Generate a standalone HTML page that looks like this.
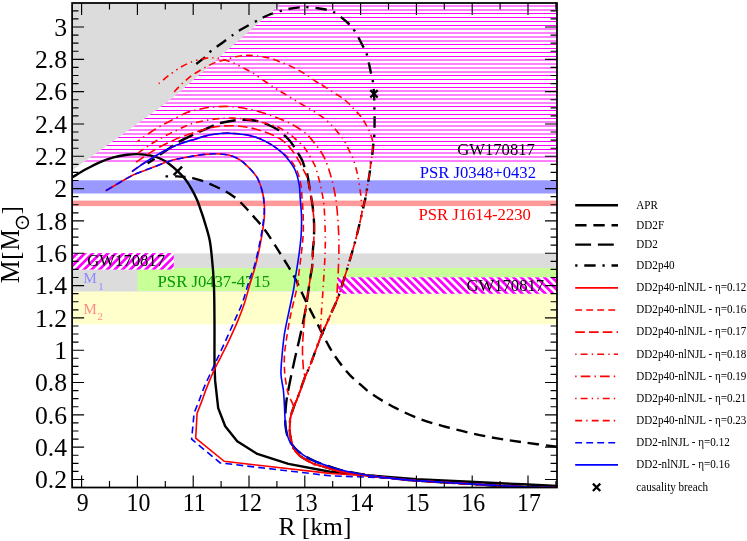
<!DOCTYPE html>
<html><head><meta charset="utf-8"><title>M-R</title>
<style>html,body{margin:0;padding:0;background:#fff;}body{width:747px;height:541px;overflow:hidden;font-family:"Liberation Serif",serif;}svg{display:block;position:absolute;left:0;top:0;will-change:transform;}text{font-family:"Liberation Serif",serif;}</style></head><body>
<svg width="747" height="541" viewBox="0 0 747 541">
<defs>
<pattern id="hh" patternUnits="userSpaceOnUse" x="0" y="-72.3960" width="10" height="3.8816"><rect x="0" y="0" width="10" height="1" fill="#ff00ff"/></pattern>
<pattern id="h1" patternUnits="userSpaceOnUse" x="232.3238" y="0" width="5.4447" height="10" patternTransform="rotate(45)"><rect x="0" y="0" width="2.75" height="10" fill="#ff00ff"/></pattern>
<pattern id="h2" patternUnits="userSpaceOnUse" x="45.9304" y="0" width="5.4447" height="10" patternTransform="rotate(-45)"><rect x="0" y="0" width="2.75" height="10" fill="#ff00ff"/></pattern>
<clipPath id="cp"><rect x="72.1" y="3" width="484.9" height="484.5"/></clipPath>
</defs>
<rect width="747" height="541" fill="#fff"/>
<g clip-path="url(#cp)">
<rect x="72.1" y="291.3" width="484.9" height="33.1" fill="#ffffcc"/>
<rect x="72.1" y="253.4" width="484.9" height="38.1" fill="#dcdcdc"/>
<rect x="137.4" y="268" width="419.6" height="23" fill="#c8ff96"/>
<rect x="72.1" y="180.3" width="484.9" height="13.2" fill="#9999ff"/>
<rect x="72.1" y="200.6" width="484.9" height="5.5" fill="#ff9999"/>
<rect x="72.1" y="253.1" width="101.7" height="16.5" fill="#fff"/>
<rect x="337.6" y="277.3" width="219.4" height="16.5" fill="#fff"/>
<rect x="72.1" y="253.1" width="101.7" height="16.5" fill="url(#h1)"/>
<rect x="337.6" y="277.3" width="219.4" height="16.5" fill="url(#h2)"/>
<path d="M72.1 161.0 H557 M72.1 157.0 H557 M72.1 153.0 H557 M72.1 149.5 H557 M72.1 145.5 H557 M72.1 141.5 H557 M72.1 137.5 H557 M72.1 134.0 H557 M72.1 130.0 H557 M72.1 126.0 H557 M72.1 122.0 H557 M72.1 118.5 H557 M72.1 114.5 H557 M72.1 110.5 H557 M72.1 106.5 H557 M72.1 103.0 H557 M72.1 99.0 H557 M72.1 95.0 H557 M72.1 91.0 H557 M72.1 87.5 H557 M72.1 83.5 H557 M72.1 79.5 H557 M72.1 75.5 H557 M72.1 72.0 H557 M72.1 68.0 H557 M72.1 64.0 H557 M72.1 60.0 H557 M72.1 56.5 H557 M72.1 52.5 H557 M72.1 48.5 H557 M72.1 44.5 H557 M72.1 41.0 H557 M72.1 37.0 H557 M72.1 33.0 H557 M72.1 29.0 H557 M72.1 25.5 H557 M72.1 21.5 H557 M72.1 17.5 H557 M72.1 13.5 H557 M72.1 10.0 H557 M72.1 6.0 H557 M72.1 2.0 H557" stroke="#ff00ff" stroke-width="1" fill="none"/>
<path d="M72.1 3 L281.3 3 L184 88.3 L172 98.3 L160 107.4 L72.1 170.4 L72.1 170.4 Z" fill="#dcdcdc"/>
<text transform="translate(457.2 154.6) scale(0.98 1)" font-size="17" fill="#000" text-anchor="start">GW170817</text>
<text transform="translate(419.7 177.7) scale(0.98 1)" font-size="17" fill="#0000ff" text-anchor="start">PSR J0348+0432</text>
<text transform="translate(418.4 219.5) scale(0.98 1)" font-size="17" fill="#ff0000" text-anchor="start">PSR J1614-2230</text>
<text transform="translate(87.3 265.6) scale(0.98 1)" font-size="17" fill="#000" text-anchor="start">GW170817</text>
<text transform="translate(466.4 291) scale(0.98 1)" font-size="17" fill="#000" text-anchor="start">GW170817</text>
<text transform="translate(157.6 286.7) scale(0.98 1)" font-size="17" fill="#009900" text-anchor="start">PSR J0437-4715</text>
<text transform="translate(83.2 283.2) scale(0.98 1)" font-size="15.6" fill="#8c8cff" text-anchor="start">M<tspan font-size="11.2" dx="1.6" dy="6.6">1</tspan></text>
<text transform="translate(83.2 313.5) scale(0.98 1)" font-size="15.6" fill="#ff8c8c" text-anchor="start">M<tspan font-size="11.2" dx="0.6" dy="6.3">2</tspan></text>
<path d="M72.7 177.1 C75.05 175.72 82.22 171.3 86.8 168.8 C91.38 166.3 95.75 164 100.2 162.1 C104.65 160.2 109.05 158.62 113.5 157.4 C117.95 156.18 122.88 155.35 126.9 154.8 C130.92 154.25 133.58 153.97 137.6 154.1 C141.62 154.23 147.27 154.87 151 155.6 C154.73 156.33 157.17 157.27 160 158.5 C162.83 159.73 164.98 160.82 168 163 C171.02 165.18 175.25 168.92 178.1 171.6 C180.95 174.28 182.93 176.33 185.1 179.1 C187.27 181.87 189.1 184.72 191.1 188.2 C193.1 191.68 195.53 196.47 197.1 200 C198.67 203.53 199.33 206.05 200.5 209.4 C201.67 212.75 202.57 214.97 204.1 220.1 C205.63 225.23 208.37 233.52 209.7 240.2 C211.03 246.88 211.43 253.52 212.1 260.2 C212.77 266.88 213.33 273.67 213.7 280.3 C214.07 286.93 214.17 291.68 214.3 300 C214.43 308.32 214.47 320.15 214.5 330.2 C214.53 340.25 214.4 351.93 214.5 360.3 C214.6 368.67 215 377.05 215.1 380.4 L218.2 408.1 L225.2 426.2 L237.2 441.2 L257.3 453.9 L288.4 463.9 L330 471.8 L360 474.6 L388 477 L416.4 479.2 L470 481.7 L522.6 484.3 L557 486" fill="none" stroke="#000" stroke-width="2.4" stroke-linejoin="round"/>
<path d="M165.5 176.4 L168.1 176.4" fill="none" stroke="#000" stroke-width="2.4"/>
<path d="M173.6 175.1 L182.1 166.6" fill="none" stroke="#000" stroke-width="2.4"/>
<path d="M175.1 176.3 C176.85 176.4 182.67 176.6 185.6 176.9 C188.53 177.2 189.77 177.4 192.7 178.1 C195.63 178.8 200.28 180.1 203.2 181.1 C206.12 182.1 207.35 182.83 210.2 184.1 C213.05 185.37 217 187.05 220.3 188.7 C223.6 190.35 226.68 191.78 230 194 C233.32 196.22 236.48 198.48 240.2 202 C243.92 205.52 248.28 210.58 252.3 215.1 C256.32 219.62 260.62 224.25 264.3 229.1 C267.98 233.95 271.05 239.02 274.4 244.2 C277.75 249.38 281.05 254.68 284.4 260.2 C287.75 265.72 290.98 270.6 294.5 277.3 C298.02 284 301.48 292.27 305.5 300.4 C309.52 308.53 314.52 318.13 318.6 326.1 C322.68 334.07 326.42 342 330 348.2 C333.58 354.4 336.75 358.78 340.1 363.3 C343.45 367.82 346.75 371.78 350.1 375.3 C353.45 378.82 356.47 381.2 360.2 384.4 C363.93 387.6 366.63 390.58 372.5 394.5 C378.37 398.42 387.33 403.77 395.4 407.9 C403.47 412.03 412.42 416.12 420.9 419.3 C429.38 422.48 437.83 424.67 446.3 427 C454.77 429.33 463.22 431.4 471.7 433.3 C480.18 435.2 488.72 436.92 497.2 438.4 C505.68 439.88 512.65 440.8 522.6 442.2 C532.55 443.6 551.18 446.03 556.9 446.8" fill="none" stroke="#000" stroke-width="2.4" stroke-dasharray="11.350 6.810" stroke-dashoffset="0.85"/>
<path d="M147.6 163.2 C148.77 162.45 152.52 160.13 154.6 158.7 C156.68 157.27 157.08 156.73 160.1 154.6 C163.12 152.47 169.52 148.07 172.7 145.9 C175.88 143.73 175.85 143.43 179.2 141.6 C182.55 139.77 189.45 136.53 192.8 134.9 C196.15 133.27 197.27 132.73 199.3 131.8 C201.33 130.87 202.75 130.3 205 129.3 C207.25 128.3 210.23 126.85 212.8 125.8 C215.37 124.75 216.58 123.93 220.4 123 C224.22 122.07 231.45 120.73 235.7 120.2 C239.95 119.67 242.3 119.65 245.9 119.8 C249.5 119.95 253.7 120.32 257.3 121.1 C260.9 121.88 263.9 122.97 267.5 124.5 C271.1 126.03 276.08 128.5 278.9 130.3 C281.72 132.1 282.55 133.52 284.4 135.3 C286.25 137.08 288.38 139.07 290 141 C291.62 142.93 292.73 144.83 294.1 146.9 C295.47 148.97 296.88 151.22 298.2 153.4 C299.52 155.58 300.98 157.85 302 160 C303.02 162.15 303.42 163.92 304.3 166.3 C305.18 168.68 306.45 170.88 307.3 174.3 C308.15 177.72 308.73 182.85 309.4 186.8 C310.07 190.75 310.75 194.65 311.3 198 C311.85 201.35 312.23 202.55 312.7 206.9 C313.17 211.25 313.92 218.55 314.1 224.1 C314.28 229.65 314 235.85 313.8 240.2 C313.6 244.55 313.17 245.85 312.9 250.2 C312.63 254.55 312.6 261.95 312.2 266.3 C311.8 270.65 311.12 272.35 310.5 276.3 C309.88 280.25 309.33 284.37 308.5 290 C307.67 295.63 306.83 302.73 305.5 310.1 C304.17 317.47 302.33 325.83 300.5 334.2 C298.67 342.57 296.35 351.93 294.5 360.3 C292.65 368.67 290.75 377.6 289.4 384.4 C288.05 391.2 287.1 395.32 286.4 401.1 C285.7 406.88 285.25 414.25 285.2 419.1 C285.15 423.95 285.43 426.67 286.1 430.2 C286.77 433.73 287.67 437.25 289.2 440.3 C290.73 443.35 292.93 446.03 295.3 448.5 C297.67 450.97 300.35 453.07 303.4 455.1 C306.45 457.13 309.87 459 313.6 460.7 C317.33 462.4 321.4 463.78 325.8 465.3 C330.2 466.82 334.3 468.35 340 469.8 C345.7 471.25 352 472.65 360 474 C368 475.35 378.6 476.8 388 477.9 C397.4 479 402.73 479.6 416.4 480.6 C430.07 481.6 452.3 482.85 470 483.9 C487.7 484.95 508.1 486.3 522.6 486.9 C537.1 487.5 551.27 487.4 557 487.5" fill="none" stroke="#000" stroke-width="2.4" stroke-dasharray="15.890 6.810" stroke-dashoffset="7.6"/>
<path d="M196.3 64 C197.93 62.7 203.72 58.32 206.1 56.2 C208.48 54.08 208.87 52.85 210.6 51.3 C212.33 49.75 213.3 49.22 216.5 46.9 C219.7 44.58 226.67 39.72 229.8 37.4 C232.93 35.08 233.43 34.32 235.3 33 C237.17 31.68 237.55 31.47 241 29.5 C244.45 27.53 252.33 23.2 256 21.2 C259.67 19.2 260.7 18.62 263 17.5 C265.3 16.38 267 15.55 269.8 14.5 C272.6 13.45 276.48 12.17 279.8 11.2 C283.12 10.23 286.33 9.35 289.7 8.7 C293.07 8.05 297.47 7.58 300 7.3 C302.53 7.02 301.9 6.83 304.9 7 C307.9 7.17 313.22 7.47 318 8.3 C322.78 9.13 328.72 9.63 333.6 12 C338.48 14.37 343.77 19.3 347.3 22.5 C350.83 25.7 352.3 27.45 354.8 31.2 C357.3 34.95 360.3 41.13 362.3 45 C364.3 48.87 365.47 50.23 366.8 54.4 C368.13 58.57 369.3 65.57 370.3 70 C371.3 74.43 372.18 77.07 372.8 81 C373.42 84.93 373.73 89.1 374 93.6 C374.27 98.1 374.3 103.6 374.4 108 C374.5 112.4 374.62 115.5 374.6 120 C374.58 124.5 374.5 131.08 374.3 135 C374.1 138.92 373.72 140.42 373.4 143.5 C373.08 146.58 372.8 150.48 372.4 153.5 C372 156.52 371.47 158.28 371 161.6 C370.53 164.92 370.28 168.75 369.6 173.4 C368.92 178.05 367.58 185.4 366.9 189.5 C366.22 193.6 365.93 195.78 365.5 198 C365.07 200.22 364.95 199.98 364.3 202.8 C363.65 205.62 362.72 210.03 361.6 214.9 C360.48 219.77 358.98 226.45 357.6 232 C356.22 237.55 355.02 242.15 353.3 248.2 C351.58 254.25 349.13 262.27 347.3 268.3 C345.47 274.33 343.87 279.45 342.3 284.4 C340.73 289.35 339.67 293.4 337.9 298 C336.13 302.6 333.6 307.67 331.7 312 C329.8 316.33 328.35 319.8 326.5 324 C324.65 328.2 323.27 330.48 320.6 337.2 C317.93 343.92 313.18 357.43 310.5 364.3 C307.82 371.17 306.67 372.78 304.5 378.4 C302.33 384.02 299.17 393.55 297.5 398 C295.83 402.45 295.65 401.92 294.5 405.1 C293.35 408.28 291.4 412.92 290.6 417.1 C289.8 421.28 289.6 426.33 289.7 430.2 C289.8 434.07 290.45 437.08 291.2 440.3 C291.95 443.52 292.68 446.87 294.2 449.5 C295.72 452.13 297.92 454.15 300.3 456.1 C302.68 458.05 306.12 459.85 308.5 461.2 C310.88 462.55 311.72 463.18 314.6 464.2 C317.48 465.22 321.57 466.1 325.8 467.3 C330.03 468.5 334.3 470.22 340 471.4 C345.7 472.58 352 473.32 360 474.4 C368 475.48 378.6 476.87 388 477.9 C397.4 478.93 402.73 479.6 416.4 480.6 C430.07 481.6 452.3 482.85 470 483.9 C487.7 484.95 508.1 486.3 522.6 486.9 C537.1 487.5 551.27 487.4 557 487.5" fill="none" stroke="#000" stroke-width="2.4" stroke-dasharray="11.350 6.810 2.270 6.810" stroke-dashoffset="0.35"/>
<path d="M105.5 190.9 C107.95 189.45 115.52 184.88 120.2 182.2 C124.88 179.52 129.13 176.92 133.6 174.8 C138.07 172.68 143.43 170.87 147 169.5 C150.57 168.13 152 167.75 155 166.6 C158 165.45 161.65 163.78 165 162.6 C168.35 161.42 171.75 160.35 175.1 159.5 C178.45 158.65 181.75 158.13 185.1 157.5 C188.45 156.87 191.85 156.22 195.2 155.7 C198.55 155.18 201.87 154.72 205.2 154.4 C208.53 154.08 211.85 153.78 215.2 153.8 C218.55 153.82 222.83 154.22 225.3 154.5 C227.77 154.78 228.2 154.97 230 155.5 C231.8 156.03 234.27 156.85 236.1 157.7 C237.93 158.55 239.52 159.58 241 160.6 C242.48 161.62 243.23 162.15 245 163.8 C246.77 165.45 249.57 168.18 251.6 170.5 C253.63 172.82 255.72 175.2 257.2 177.7 C258.68 180.2 259.58 182.92 260.5 185.5 C261.42 188.08 262.15 190.78 262.7 193.2 C263.25 195.62 263.48 196.87 263.8 200 C264.12 203.13 264.68 207.65 264.6 212 C264.52 216.35 264.02 220.73 263.3 226.1 C262.58 231.47 261.63 237.5 260.3 244.2 C258.97 250.9 257.13 259.28 255.3 266.3 C253.47 273.32 251.05 280.32 249.3 286.3 C247.55 292.28 246.65 296.6 244.8 302.2 C242.95 307.8 240.78 313.63 238.2 319.9 C235.62 326.17 232.25 333.52 229.3 339.8 C226.35 346.08 223.08 352.42 220.5 357.6 C217.92 362.78 216.02 366.1 213.8 370.9 C211.58 375.7 209.12 381.57 207.2 386.4 C205.28 391.23 203.12 397.65 202.3 399.9 L197.1 413.1 L195.7 438.2 L224.2 461.3 L330 473.4 L360 475.3 L388 478 L416.4 480.6 L470 483.9 L522.6 486.9 L557 487.5" fill="none" stroke="#ff0000" stroke-width="1.6"/>
<path d="M132 171.6 C133.33 170.63 136.98 167.85 140 165.8 C143.02 163.75 146.75 161.4 150.1 159.3 C153.45 157.2 156.75 155.08 160.1 153.2 C163.45 151.32 166.85 149.58 170.2 148 C173.55 146.42 176.9 144.93 180.2 143.7 C183.5 142.47 187.53 141.35 190 140.6 C192.47 139.85 192.05 140.07 195 139.2 C197.95 138.33 203.47 136.35 207.7 135.4 C211.93 134.45 216.58 133.87 220.4 133.5 C224.22 133.13 226.35 132.98 230.6 133.2 C234.85 133.42 241.23 133.97 245.9 134.8 C250.57 135.63 254.37 136.57 258.6 138.2 C262.83 139.83 267.48 142.27 271.3 144.6 C275.12 146.93 278.43 149.77 281.5 152.2 C284.57 154.63 287.17 156.23 289.7 159.2 C292.23 162.17 294.85 165.8 296.7 170 C298.55 174.2 299.92 179.73 300.8 184.4 C301.68 189.07 301.6 192.73 302 198 C302.4 203.27 303.02 209.67 303.2 216 C303.38 222.33 303.5 229 303.1 236 C302.7 243 301.65 250.67 300.8 258 C299.95 265.33 298.72 274.67 298 280 C297.28 285.33 297.77 284 296.5 290 C295.23 296 292.1 307.63 290.4 316 C288.7 324.37 287.3 333.48 286.3 340.2 C285.3 346.92 284.65 350.62 284.4 356.3 C284.15 361.98 284.3 368.62 284.8 374.3 C285.3 379.98 286.63 386.62 287.4 390.4 C288.17 394.18 288.38 394.22 289.4 397 C290.42 399.78 293.3 403.75 293.5 407.1 C293.7 410.45 291.23 413.25 290.6 417.1 C289.97 420.95 289.6 426.33 289.7 430.2 C289.8 434.07 290.45 437.08 291.2 440.3 C291.95 443.52 292.68 446.87 294.2 449.5 C295.72 452.13 297.92 454.15 300.3 456.1 C302.68 458.05 306.12 459.85 308.5 461.2 C310.88 462.55 311.72 463.18 314.6 464.2 C317.48 465.22 321.57 466.1 325.8 467.3 C330.03 468.5 334.3 470.22 340 471.4 C345.7 472.58 352 473.32 360 474.4 C368 475.48 378.6 476.87 388 477.9 C397.4 478.93 402.73 479.6 416.4 480.6 C430.07 481.6 452.3 482.85 470 483.9 C487.7 484.95 508.1 486.3 522.6 486.9 C537.1 487.5 551.27 487.4 557 487.5" fill="none" stroke="#ff0000" stroke-width="1.6" stroke-dasharray="6.890 4.134"/>
<path d="M136 162.2 C137.27 161.35 140.42 159.2 143.6 157.1 C146.78 155 151.18 151.9 155.1 149.6 C159.02 147.3 163 145.3 167.1 143.3 C171.2 141.3 175.42 139.3 179.7 137.6 C183.98 135.9 188.58 134.5 192.8 133.1 C197.02 131.7 202.52 130 205 129.2 C207.48 128.4 205.13 128.8 207.7 128.3 C210.27 127.8 216.15 126.62 220.4 126.2 C224.65 125.78 228.95 125.67 233.2 125.8 C237.45 125.93 241.67 126.3 245.9 127 C250.13 127.7 254.37 128.77 258.6 130 C262.83 131.23 267.73 132.93 271.3 134.4 C274.87 135.87 277.43 137.17 280 138.8 C282.57 140.43 284.7 142.3 286.7 144.2 C288.7 146.1 290.45 148.2 292 150.2 C293.55 152.2 294.67 154.08 296 156.2 C297.33 158.32 298.75 160.6 300 162.9 C301.25 165.2 302.33 167.65 303.5 170 C304.67 172.35 306.02 174.2 307 177 C307.98 179.8 308.68 183.3 309.4 186.8 C310.12 190.3 310.75 194.65 311.3 198 C311.85 201.35 312.23 202.55 312.7 206.9 C313.17 211.25 313.92 218.55 314.1 224.1 C314.28 229.65 314 235.85 313.8 240.2 C313.6 244.55 313.17 245.85 312.9 250.2 C312.63 254.55 312.6 261.95 312.2 266.3 C311.8 270.65 311.12 272.35 310.5 276.3 C309.88 280.25 309.33 284.37 308.5 290 C307.67 295.63 306.33 303.4 305.5 310.1 C304.67 316.8 304 323.52 303.5 330.2 C303 336.88 302.5 343.52 302.5 350.2 C302.5 356.88 303.17 365.6 303.5 370.3 C303.83 375 305.5 373.78 304.5 378.4 C303.5 383.02 299.17 393.55 297.5 398 C295.83 402.45 295.65 401.92 294.5 405.1 C293.35 408.28 291.4 412.92 290.6 417.1 C289.8 421.28 289.6 426.33 289.7 430.2 C289.8 434.07 290.45 437.08 291.2 440.3 C291.95 443.52 292.68 446.87 294.2 449.5 C295.72 452.13 297.92 454.15 300.3 456.1 C302.68 458.05 306.12 459.85 308.5 461.2 C310.88 462.55 311.72 463.18 314.6 464.2 C317.48 465.22 321.57 466.1 325.8 467.3 C330.03 468.5 334.3 470.22 340 471.4 C345.7 472.58 352 473.32 360 474.4 C368 475.48 378.6 476.87 388 477.9 C397.4 478.93 402.73 479.6 416.4 480.6 C430.07 481.6 452.3 482.85 470 483.9 C487.7 484.95 508.1 486.3 522.6 486.9 C537.1 487.5 551.27 487.4 557 487.5" fill="none" stroke="#ff0000" stroke-width="1.6" stroke-dasharray="9.646 4.134"/>
<path d="M138 153.1 C139.6 151.97 144.33 148.47 147.6 146.3 C150.87 144.13 153.58 142.38 157.6 140.1 C161.62 137.82 166.77 135.03 171.7 132.6 C176.63 130.17 183.32 127.15 187.2 125.5 C191.08 123.85 191.58 123.6 195 122.7 C198.42 121.8 203.47 120.8 207.7 120.1 C211.93 119.4 216.15 118.83 220.4 118.5 C224.65 118.17 228.95 117.98 233.2 118.1 C237.45 118.22 241.67 118.63 245.9 119.2 C250.13 119.77 254.37 120.55 258.6 121.5 C262.83 122.45 267.73 123.8 271.3 124.9 C274.87 126 276.65 126.33 280 128.1 C283.35 129.87 288.62 133.48 291.4 135.5 C294.18 137.52 294.7 138.42 296.7 140.2 C298.7 141.98 301.62 144.2 303.4 146.2 C305.18 148.2 305.97 149.9 307.4 152.2 C308.83 154.5 310.65 157.55 312 160 C313.35 162.45 314.6 164.67 315.5 166.9 C316.4 169.13 316.42 169.63 317.4 173.4 C318.38 177.17 320.28 183.92 321.4 189.5 C322.52 195.08 323.47 199.82 324.1 206.9 C324.73 213.98 325.02 224.82 325.2 232 C325.38 239.18 325.37 243.62 325.2 250 C325.03 256.38 324.57 263.63 324.2 270.3 C323.83 276.97 323.43 283.37 323 290 C322.57 296.63 322 303.4 321.6 310.1 C321.2 316.8 320.77 325.68 320.6 330.2 C320.43 334.72 322.28 331.52 320.6 337.2 C318.92 342.88 313.18 357.43 310.5 364.3 C307.82 371.17 306.67 372.78 304.5 378.4 C302.33 384.02 299.17 393.55 297.5 398 C295.83 402.45 295.65 401.92 294.5 405.1 C293.35 408.28 291.4 412.92 290.6 417.1 C289.8 421.28 289.6 426.33 289.7 430.2 C289.8 434.07 290.45 437.08 291.2 440.3 C291.95 443.52 292.68 446.87 294.2 449.5 C295.72 452.13 297.92 454.15 300.3 456.1 C302.68 458.05 306.12 459.85 308.5 461.2 C310.88 462.55 311.72 463.18 314.6 464.2 C317.48 465.22 321.57 466.1 325.8 467.3 C330.03 468.5 334.3 470.22 340 471.4 C345.7 472.58 352 473.32 360 474.4 C368 475.48 378.6 476.87 388 477.9 C397.4 478.93 402.73 479.6 416.4 480.6 C430.07 481.6 452.3 482.85 470 483.9 C487.7 484.95 508.1 486.3 522.6 486.9 C537.1 487.5 551.27 487.4 557 487.5" fill="none" stroke="#ff0000" stroke-width="1.6" stroke-dasharray="6.890 4.134 1.378 4.134" stroke-dashoffset="0.1"/>
<path d="M137.5 141.6 C140.43 139.55 149.38 132.88 155.1 129.3 C160.82 125.72 166.5 122.88 171.8 120.1 C177.1 117.32 183.03 114.23 186.9 112.6 C190.77 110.97 191.53 111.15 195 110.3 C198.47 109.45 202.62 108.15 207.7 107.5 C212.78 106.85 220.2 106.4 225.5 106.4 C230.8 106.4 235.05 106.9 239.5 107.5 C243.95 108.1 247.95 109.02 252.2 110 C256.45 110.98 260.75 112.08 265 113.4 C269.25 114.72 273.63 116.3 277.7 117.9 C281.77 119.5 285.45 120.97 289.4 123 C293.35 125.03 298.28 128.02 301.4 130.1 C304.52 132.18 305.87 133.27 308.1 135.5 C310.33 137.73 312.68 140.83 314.8 143.5 C316.92 146.17 319.03 148.75 320.8 151.5 C322.57 154.25 323.85 156.35 325.4 160 C326.95 163.65 328.65 168.48 330.1 173.4 C331.55 178.32 332.98 183.92 334.1 189.5 C335.22 195.08 336.05 199.82 336.8 206.9 C337.55 213.98 338.25 224.82 338.6 232 C338.95 239.18 338.95 243.62 338.9 250 C338.85 256.38 338.58 263.63 338.3 270.3 C338.02 276.97 337.47 285.38 337.2 290 C336.93 294.62 337.07 295.5 336.7 298 C336.33 300.5 335.83 302.67 335 305 C334.17 307.33 333.12 308.83 331.7 312 C330.28 315.17 328.35 319.8 326.5 324 C324.65 328.2 323.27 330.48 320.6 337.2 C317.93 343.92 313.18 357.43 310.5 364.3 C307.82 371.17 306.67 372.78 304.5 378.4 C302.33 384.02 299.17 393.55 297.5 398 C295.83 402.45 295.65 401.92 294.5 405.1 C293.35 408.28 291.4 412.92 290.6 417.1 C289.8 421.28 289.6 426.33 289.7 430.2 C289.8 434.07 290.45 437.08 291.2 440.3 C291.95 443.52 292.68 446.87 294.2 449.5 C295.72 452.13 297.92 454.15 300.3 456.1 C302.68 458.05 306.12 459.85 308.5 461.2 C310.88 462.55 311.72 463.18 314.6 464.2 C317.48 465.22 321.57 466.1 325.8 467.3 C330.03 468.5 334.3 470.22 340 471.4 C345.7 472.58 352 473.32 360 474.4 C368 475.48 378.6 476.87 388 477.9 C397.4 478.93 402.73 479.6 416.4 480.6 C430.07 481.6 452.3 482.85 470 483.9 C487.7 484.95 508.1 486.3 522.6 486.9 C537.1 487.5 551.27 487.4 557 487.5" fill="none" stroke="#ff0000" stroke-width="1.6" stroke-dasharray="9.646 4.134 1.378 4.134" stroke-dashoffset="6.65"/>
<path d="M158.9 83.6 C160.38 82.37 164.3 78.85 167.8 76.2 C171.3 73.55 176.08 70.02 179.9 67.7 C183.72 65.38 187.32 63.7 190.7 62.3 C194.08 60.9 197.55 60 200.2 59.3 C202.85 58.6 204.68 58.35 206.6 58.1 C208.52 57.85 209.9 57.8 211.7 57.8 C213.5 57.8 215.18 57.73 217.4 58.1 C219.62 58.47 222.4 59.22 225 60 C227.6 60.78 230.1 61.57 233 62.8 C235.9 64.03 239.17 65.73 242.4 67.4 C245.63 69.07 248.6 70.45 252.4 72.8 C256.2 75.15 261.4 78.93 265.2 81.5 C269 84.07 272.08 86.2 275.2 88.2 C278.32 90.2 280.78 91.6 283.9 93.5 C287.02 95.4 290.55 97.58 293.9 99.6 C297.25 101.62 300.75 103.7 304 105.6 C307.25 107.5 310.27 109.03 313.4 111 C316.53 112.97 319.93 115.22 322.8 117.4 C325.67 119.58 328.03 121.53 330.6 124.1 C333.17 126.67 335.92 130.02 338.2 132.8 C340.48 135.58 342.4 137.68 344.3 140.8 C346.2 143.92 348.07 148.3 349.6 151.5 C351.13 154.7 352.17 156.13 353.5 160 C354.83 163.87 356.48 169.57 357.6 174.7 C358.72 179.83 359.58 186.55 360.2 190.8 C360.82 195.05 361.03 196.85 361.3 200.2 C361.57 203.55 361.75 208.45 361.8 210.9 C361.85 213.35 362.3 211.38 361.6 214.9 C360.9 218.42 358.98 226.45 357.6 232 C356.22 237.55 355.02 242.15 353.3 248.2 C351.58 254.25 349.13 262.27 347.3 268.3 C345.47 274.33 343.87 279.45 342.3 284.4 C340.73 289.35 339.67 293.4 337.9 298 C336.13 302.6 333.6 307.67 331.7 312 C329.8 316.33 328.35 319.8 326.5 324 C324.65 328.2 323.27 330.48 320.6 337.2 C317.93 343.92 313.18 357.43 310.5 364.3 C307.82 371.17 306.67 372.78 304.5 378.4 C302.33 384.02 299.17 393.55 297.5 398 C295.83 402.45 295.65 401.92 294.5 405.1 C293.35 408.28 291.4 412.92 290.6 417.1 C289.8 421.28 289.6 426.33 289.7 430.2 C289.8 434.07 290.45 437.08 291.2 440.3 C291.95 443.52 292.68 446.87 294.2 449.5 C295.72 452.13 297.92 454.15 300.3 456.1 C302.68 458.05 306.12 459.85 308.5 461.2 C310.88 462.55 311.72 463.18 314.6 464.2 C317.48 465.22 321.57 466.1 325.8 467.3 C330.03 468.5 334.3 470.22 340 471.4 C345.7 472.58 352 473.32 360 474.4 C368 475.48 378.6 476.87 388 477.9 C397.4 478.93 402.73 479.6 416.4 480.6 C430.07 481.6 452.3 482.85 470 483.9 C487.7 484.95 508.1 486.3 522.6 486.9 C537.1 487.5 551.27 487.4 557 487.5" fill="none" stroke="#ff0000" stroke-width="1.6" stroke-dasharray="1.378 4.134 6.890 4.134 1.378 4.134"/>
<path d="M174.2 91.9 C175.47 90.57 178.73 86.72 181.8 83.9 C184.87 81.08 188.47 77.87 192.6 75 C196.73 72.13 202.47 68.93 206.6 66.7 C210.73 64.47 214.33 62.7 217.4 61.6 C220.47 60.5 221.95 60.92 225 60.1 C228.05 59.28 232.13 57.48 235.7 56.7 C239.27 55.92 243.05 55.55 246.4 55.4 C249.75 55.25 252 55.35 255.8 55.8 C259.6 56.25 264.73 56.93 269.2 58.1 C273.67 59.27 278.37 61.13 282.6 62.8 C286.83 64.47 290.82 66.22 294.6 68.1 C298.38 69.98 301.73 71.87 305.3 74.1 C308.87 76.33 313.1 79.6 316 81.5 C318.9 83.4 319.7 83.63 322.7 85.5 C325.7 87.37 330.3 90.28 334 92.7 C337.7 95.12 341.63 97.33 344.9 100 C348.17 102.67 350.92 105.92 353.6 108.7 C356.28 111.48 358.98 114.13 361 116.7 C363.02 119.27 364.37 121.87 365.7 124.1 C367.03 126.33 367.88 127.42 369 130.1 C370.12 132.78 371.8 136.88 372.4 140.2 C373 143.52 372.6 147.78 372.6 150 C372.6 152.22 372.67 151.57 372.4 153.5 C372.13 155.43 371.47 158.28 371 161.6 C370.53 164.92 370.28 168.75 369.6 173.4 C368.92 178.05 367.58 185.4 366.9 189.5 C366.22 193.6 365.93 195.78 365.5 198 C365.07 200.22 364.95 199.98 364.3 202.8 C363.65 205.62 362.72 210.03 361.6 214.9 C360.48 219.77 358.98 226.45 357.6 232 C356.22 237.55 355.02 242.15 353.3 248.2 C351.58 254.25 349.13 262.27 347.3 268.3 C345.47 274.33 343.87 279.45 342.3 284.4 C340.73 289.35 339.67 293.4 337.9 298 C336.13 302.6 333.6 307.67 331.7 312 C329.8 316.33 328.35 319.8 326.5 324 C324.65 328.2 323.27 330.48 320.6 337.2 C317.93 343.92 313.18 357.43 310.5 364.3 C307.82 371.17 306.67 372.78 304.5 378.4 C302.33 384.02 299.17 393.55 297.5 398 C295.83 402.45 295.65 401.92 294.5 405.1 C293.35 408.28 291.4 412.92 290.6 417.1 C289.8 421.28 289.6 426.33 289.7 430.2 C289.8 434.07 290.45 437.08 291.2 440.3 C291.95 443.52 292.68 446.87 294.2 449.5 C295.72 452.13 297.92 454.15 300.3 456.1 C302.68 458.05 306.12 459.85 308.5 461.2 C310.88 462.55 311.72 463.18 314.6 464.2 C317.48 465.22 321.57 466.1 325.8 467.3 C330.03 468.5 334.3 470.22 340 471.4 C345.7 472.58 352 473.32 360 474.4 C368 475.48 378.6 476.87 388 477.9 C397.4 478.93 402.73 479.6 416.4 480.6 C430.07 481.6 452.3 482.85 470 483.9 C487.7 484.95 508.1 486.3 522.6 486.9 C537.1 487.5 551.27 487.4 557 487.5" fill="none" stroke="#ff0000" stroke-width="1.6" stroke-dasharray="6.890 4.134 1.378 4.134 6.890 4.134"/>
<path d="M105.5 190.9 C107.95 189.45 115.52 184.88 120.2 182.2 C124.88 179.52 129.13 176.92 133.6 174.8 C138.07 172.68 143.43 170.87 147 169.5 C150.57 168.13 152 167.75 155 166.6 C158 165.45 161.65 163.78 165 162.6 C168.35 161.42 171.75 160.35 175.1 159.5 C178.45 158.65 181.75 158.13 185.1 157.5 C188.45 156.87 191.85 156.22 195.2 155.7 C198.55 155.18 201.87 154.72 205.2 154.4 C208.53 154.08 211.85 153.78 215.2 153.8 C218.55 153.82 222.83 154.22 225.3 154.5 C227.77 154.78 228.2 154.97 230 155.5 C231.8 156.03 234.27 156.85 236.1 157.7 C237.93 158.55 239.52 159.58 241 160.6 C242.48 161.62 243.23 162.15 245 163.8 C246.77 165.45 249.57 168.18 251.6 170.5 C253.63 172.82 255.72 175.2 257.2 177.7 C258.68 180.2 259.58 182.92 260.5 185.5 C261.42 188.08 262.15 190.78 262.7 193.2 C263.25 195.62 263.55 196.87 263.8 200 C264.05 203.13 264.38 207.65 264.2 212 C264.02 216.35 263.48 220.73 262.7 226.1 C261.92 231.47 260.9 237.5 259.5 244.2 C258.1 250.9 256 260.33 254.3 266.3 C252.6 272.27 251.25 274.02 249.3 280 C247.35 285.98 245 295.55 242.6 302.2 C240.2 308.85 237.67 313.63 234.9 319.9 C232.13 326.17 228.85 333.52 226 339.8 C223.15 346.08 220.2 352.42 217.8 357.6 C215.4 362.78 213.82 366.1 211.6 370.9 C209.38 375.7 206.53 381.57 204.5 386.4 C202.47 391.23 200.25 397.65 199.4 399.9 L194.1 413.1 L191.6 439.2 L220.2 462.9 L330 475.8 L370 477.3 L388 478.1 L416.4 480.6 L470 483.9 L522.6 486.9 L557 487.5" fill="none" stroke="#0000ff" stroke-width="1.6" stroke-dasharray="6.890 4.134" stroke-dashoffset="10"/>
<path d="M132 171.6 C133.33 170.63 136.98 167.85 140 165.8 C143.02 163.75 146.75 161.4 150.1 159.3 C153.45 157.2 156.75 155.08 160.1 153.2 C163.45 151.32 166.85 149.58 170.2 148 C173.55 146.42 176.9 144.93 180.2 143.7 C183.5 142.47 187.53 141.35 190 140.6 C192.47 139.85 192.05 140.07 195 139.2 C197.95 138.33 203.47 136.35 207.7 135.4 C211.93 134.45 216.58 133.87 220.4 133.5 C224.22 133.13 226.35 132.98 230.6 133.2 C234.85 133.42 241.23 133.97 245.9 134.8 C250.57 135.63 254.37 136.57 258.6 138.2 C262.83 139.83 267.48 142.27 271.3 144.6 C275.12 146.93 278.68 149.72 281.5 152.2 C284.32 154.68 285.92 156.48 288.2 159.5 C290.48 162.52 293.37 166.15 295.2 170.3 C297.03 174.45 298.37 179.78 299.2 184.4 C300.03 189.02 299.82 192.72 300.2 198 C300.58 203.28 301.35 209.75 301.5 216.1 C301.65 222.45 301.6 229.08 301.1 236.1 C300.6 243.12 299.53 250.83 298.5 258.2 C297.47 265.57 295.73 275 294.9 280.3 C294.07 285.6 294.58 284.37 293.5 290 C292.42 295.63 289.92 306.73 288.4 314.1 C286.88 321.47 285.47 327.17 284.4 334.2 C283.33 341.23 282.57 349.62 282 356.3 C281.43 362.98 280.77 368.62 281 374.3 C281.23 379.98 282.83 385.27 283.4 390.4 C283.97 395.53 284.12 400.17 284.4 405.1 C284.68 410.03 284.82 415.82 285.1 420 C285.38 424.18 285.42 426.82 286.1 430.2 C286.78 433.58 287.67 437.25 289.2 440.3 C290.73 443.35 292.93 446.03 295.3 448.5 C297.67 450.97 300.35 453.07 303.4 455.1 C306.45 457.13 309.87 459 313.6 460.7 C317.33 462.4 321.4 463.78 325.8 465.3 C330.2 466.82 334.3 468.35 340 469.8 C345.7 471.25 352 472.65 360 474 C368 475.35 378.6 476.8 388 477.9 C397.4 479 402.73 479.6 416.4 480.6 C430.07 481.6 452.3 482.85 470 483.9 C487.7 484.95 508.1 486.3 522.6 486.9 C537.1 487.5 551.27 487.4 557 487.5" fill="none" stroke="#0000ff" stroke-width="1.6"/>
<path d="M370.3 90.1 L377.7 97.5 M370.3 97.5 L377.7 90.1" stroke="#000" stroke-width="2.2" fill="none"/>
</g>
<path d="M81.6 487.5 v-12 M81.6 3 v12 M109.5 487.5 v-6.4 M109.5 3 v6.4 M137.4 487.5 v-12 M137.4 3 v12 M165.3 487.5 v-6.4 M165.3 3 v6.4 M193.2 487.5 v-12 M193.2 3 v12 M221.1 487.5 v-6.4 M221.1 3 v6.4 M249 487.5 v-12 M249 3 v12 M276.9 487.5 v-6.4 M276.9 3 v6.4 M304.8 487.5 v-12 M304.8 3 v12 M332.7 487.5 v-6.4 M332.7 3 v6.4 M360.6 487.5 v-12 M360.6 3 v12 M388.5 487.5 v-6.4 M388.5 3 v6.4 M416.4 487.5 v-12 M416.4 3 v12 M444.3 487.5 v-6.4 M444.3 3 v6.4 M472.2 487.5 v-12 M472.2 3 v12 M500.1 487.5 v-6.4 M500.1 3 v6.4 M528 487.5 v-12 M528 3 v12 M555.9 487.5 v-6.4 M555.9 3 v6.4 M72.1 479.48 h12 M557 479.48 h-12 M72.1 471.4 h6.4 M557 471.4 h-6.4 M72.1 463.32 h6.4 M557 463.32 h-6.4 M72.1 455.24 h6.4 M557 455.24 h-6.4 M72.1 447.16 h12 M557 447.16 h-12 M72.1 439.08 h6.4 M557 439.08 h-6.4 M72.1 431 h6.4 M557 431 h-6.4 M72.1 422.92 h6.4 M557 422.92 h-6.4 M72.1 414.84 h12 M557 414.84 h-12 M72.1 406.76 h6.4 M557 406.76 h-6.4 M72.1 398.68 h6.4 M557 398.68 h-6.4 M72.1 390.6 h6.4 M557 390.6 h-6.4 M72.1 382.52 h12 M557 382.52 h-12 M72.1 374.44 h6.4 M557 374.44 h-6.4 M72.1 366.36 h6.4 M557 366.36 h-6.4 M72.1 358.28 h6.4 M557 358.28 h-6.4 M72.1 350.2 h12 M557 350.2 h-12 M72.1 342.12 h6.4 M557 342.12 h-6.4 M72.1 334.04 h6.4 M557 334.04 h-6.4 M72.1 325.96 h6.4 M557 325.96 h-6.4 M72.1 317.88 h12 M557 317.88 h-12 M72.1 309.8 h6.4 M557 309.8 h-6.4 M72.1 301.72 h6.4 M557 301.72 h-6.4 M72.1 293.64 h6.4 M557 293.64 h-6.4 M72.1 285.56 h12 M557 285.56 h-12 M72.1 277.48 h6.4 M557 277.48 h-6.4 M72.1 269.4 h6.4 M557 269.4 h-6.4 M72.1 261.32 h6.4 M557 261.32 h-6.4 M72.1 253.24 h12 M557 253.24 h-12 M72.1 245.16 h6.4 M557 245.16 h-6.4 M72.1 237.08 h6.4 M557 237.08 h-6.4 M72.1 229 h6.4 M557 229 h-6.4 M72.1 220.92 h12 M557 220.92 h-12 M72.1 212.84 h6.4 M557 212.84 h-6.4 M72.1 204.76 h6.4 M557 204.76 h-6.4 M72.1 196.68 h6.4 M557 196.68 h-6.4 M72.1 188.6 h12 M557 188.6 h-12 M72.1 180.52 h6.4 M557 180.52 h-6.4 M72.1 172.44 h6.4 M557 172.44 h-6.4 M72.1 164.36 h6.4 M557 164.36 h-6.4 M72.1 156.28 h12 M557 156.28 h-12 M72.1 148.2 h6.4 M557 148.2 h-6.4 M72.1 140.12 h6.4 M557 140.12 h-6.4 M72.1 132.04 h6.4 M557 132.04 h-6.4 M72.1 123.96 h12 M557 123.96 h-12 M72.1 115.88 h6.4 M557 115.88 h-6.4 M72.1 107.8 h6.4 M557 107.8 h-6.4 M72.1 99.72 h6.4 M557 99.72 h-6.4 M72.1 91.64 h12 M557 91.64 h-12 M72.1 83.56 h6.4 M557 83.56 h-6.4 M72.1 75.48 h6.4 M557 75.48 h-6.4 M72.1 67.4 h6.4 M557 67.4 h-6.4 M72.1 59.32 h12 M557 59.32 h-12 M72.1 51.24 h6.4 M557 51.24 h-6.4 M72.1 43.16 h6.4 M557 43.16 h-6.4 M72.1 35.08 h6.4 M557 35.08 h-6.4 M72.1 27 h12 M557 27 h-12 M72.1 18.92 h6.4 M557 18.92 h-6.4 M72.1 10.84 h6.4 M557 10.84 h-6.4" stroke="#000" stroke-width="1.15" fill="none"/>
<rect x="72.1" y="3" width="484.9" height="484.5" fill="none" stroke="#000" stroke-width="1.75"/>
<text transform="translate(82.6 511.4) scale(0.91 1)" font-size="26.2" text-anchor="middle">9</text>
<text transform="translate(138.4 511.4) scale(0.91 1)" font-size="26.2" text-anchor="middle">10</text>
<text transform="translate(194.2 511.4) scale(0.91 1)" font-size="26.2" text-anchor="middle">11</text>
<text transform="translate(250 511.4) scale(0.91 1)" font-size="26.2" text-anchor="middle">12</text>
<text transform="translate(305.8 511.4) scale(0.91 1)" font-size="26.2" text-anchor="middle">13</text>
<text transform="translate(361.6 511.4) scale(0.91 1)" font-size="26.2" text-anchor="middle">14</text>
<text transform="translate(417.4 511.4) scale(0.91 1)" font-size="26.2" text-anchor="middle">15</text>
<text transform="translate(473.2 511.4) scale(0.91 1)" font-size="26.2" text-anchor="middle">16</text>
<text transform="translate(529 511.4) scale(0.91 1)" font-size="26.2" text-anchor="middle">17</text>
<text transform="translate(67 488.28) scale(0.98 1)" font-size="26.2" text-anchor="end">0.2</text>
<text transform="translate(67 455.96) scale(0.98 1)" font-size="26.2" text-anchor="end">0.4</text>
<text transform="translate(67 423.64) scale(0.98 1)" font-size="26.2" text-anchor="end">0.6</text>
<text transform="translate(67 391.32) scale(0.98 1)" font-size="26.2" text-anchor="end">0.8</text>
<text transform="translate(67 359) scale(0.98 1)" font-size="26.2" text-anchor="end">1</text>
<text transform="translate(67 326.68) scale(0.98 1)" font-size="26.2" text-anchor="end">1.2</text>
<text transform="translate(67 294.36) scale(0.98 1)" font-size="26.2" text-anchor="end">1.4</text>
<text transform="translate(67 262.04) scale(0.98 1)" font-size="26.2" text-anchor="end">1.6</text>
<text transform="translate(67 229.72) scale(0.98 1)" font-size="26.2" text-anchor="end">1.8</text>
<text transform="translate(67 197.4) scale(0.98 1)" font-size="26.2" text-anchor="end">2</text>
<text transform="translate(67 165.08) scale(0.98 1)" font-size="26.2" text-anchor="end">2.2</text>
<text transform="translate(67 132.76) scale(0.98 1)" font-size="26.2" text-anchor="end">2.4</text>
<text transform="translate(67 100.44) scale(0.98 1)" font-size="26.2" text-anchor="end">2.6</text>
<text transform="translate(67 68.12) scale(0.98 1)" font-size="26.2" text-anchor="end">2.8</text>
<text transform="translate(67 35.8) scale(0.98 1)" font-size="26.2" text-anchor="end">3</text>
<text x="314.9" y="535" font-size="25.5" text-anchor="middle">R [km]</text>
<g transform="translate(18.9 285.6) rotate(-90)"><text transform="translate(2.4 0) scale(0.945 1)" font-size="27.4">M</text><text x="25.55" y="0" font-size="25.6">[</text><text transform="translate(35.0 0) scale(0.875 1)" font-size="27.4">M</text><circle cx="63.0" cy="3.5" r="6.0" fill="none" stroke="#000" stroke-width="1.5"/><circle cx="63.0" cy="3.5" r="1.0" fill="#000"/><text x="71.2" y="0" font-size="25.6">]</text></g>
<path d="M575.2 205.3 H618" stroke="#000" stroke-width="2.4" fill="none"/>
<text transform="translate(636.3 208.6) scale(0.95 1)" font-size="11.7">APR</text>
<path d="M575.2 225.2 H618" stroke="#000" stroke-width="2.4" fill="none" stroke-dasharray="11.350 6.810"/>
<text transform="translate(636.3 228.5) scale(0.95 1)" font-size="11.7">DD2F</text>
<path d="M575.2 244.6 H618" stroke="#000" stroke-width="2.4" fill="none" stroke-dasharray="15.890 6.810"/>
<text transform="translate(636.3 247.9) scale(0.95 1)" font-size="11.7">DD2</text>
<path d="M575.2 265.5 H618" stroke="#000" stroke-width="2.4" fill="none" stroke-dasharray="2.270 6.810 11.350 6.810"/>
<text transform="translate(636.3 268.8) scale(0.95 1)" font-size="11.7">DD2p40</text>
<path d="M575.2 287.85 H618" stroke="#ff0000" stroke-width="1.6" fill="none"/>
<text transform="translate(636.3 291.15) scale(0.95 1)" font-size="11.7">DD2p40-nlNJL - η=0.12</text>
<path d="M575.2 309.98 H618" stroke="#ff0000" stroke-width="1.6" fill="none" stroke-dasharray="6.890 4.134"/>
<text transform="translate(636.3 313.28) scale(0.95 1)" font-size="11.7">DD2p40-nlNJL - η=0.16</text>
<path d="M575.2 332.11 H618" stroke="#ff0000" stroke-width="1.6" fill="none" stroke-dasharray="9.646 4.134"/>
<text transform="translate(636.3 335.41) scale(0.95 1)" font-size="11.7">DD2p40-nlNJL - η=0.17</text>
<path d="M575.2 354.24 H618" stroke="#ff0000" stroke-width="1.6" fill="none" stroke-dasharray="1.378 4.134 6.890 4.134"/>
<text transform="translate(636.3 357.54) scale(0.95 1)" font-size="11.7">DD2p40-nlNJL - η=0.18</text>
<path d="M575.2 376.37 H618" stroke="#ff0000" stroke-width="1.6" fill="none" stroke-dasharray="1.378 4.134 9.646 4.134"/>
<text transform="translate(636.3 379.67) scale(0.95 1)" font-size="11.7">DD2p40-nlNJL - η=0.19</text>
<path d="M575.2 398.5 H618" stroke="#ff0000" stroke-width="1.6" fill="none" stroke-dasharray="1.378 4.134 6.890 4.134 1.378 4.134"/>
<text transform="translate(636.3 401.8) scale(0.95 1)" font-size="11.7">DD2p40-nlNJL - η=0.21</text>
<path d="M575.2 420.63 H618" stroke="#ff0000" stroke-width="1.6" fill="none" stroke-dasharray="6.890 4.134 1.378 4.134 6.890 4.134"/>
<text transform="translate(636.3 423.93) scale(0.95 1)" font-size="11.7">DD2p40-nlNJL - η=0.23</text>
<path d="M575.2 442.76 H618" stroke="#0000ff" stroke-width="1.6" fill="none" stroke-dasharray="6.890 4.134"/>
<text transform="translate(636.3 446.06) scale(0.95 1)" font-size="11.7">DD2-nlNJL - η=0.12</text>
<path d="M575.2 464.89 H618" stroke="#0000ff" stroke-width="1.6" fill="none"/>
<text transform="translate(636.3 468.19) scale(0.95 1)" font-size="11.7">DD2-nlNJL - η=0.16</text>
<path d="M592.9 483.6 L600.3 491 M592.9 491 L600.3 483.6" stroke="#000" stroke-width="2.2" fill="none"/>
<text transform="translate(636.3 490.6) scale(0.95 1)" font-size="11.7">causality breach</text>
</svg></body></html>
